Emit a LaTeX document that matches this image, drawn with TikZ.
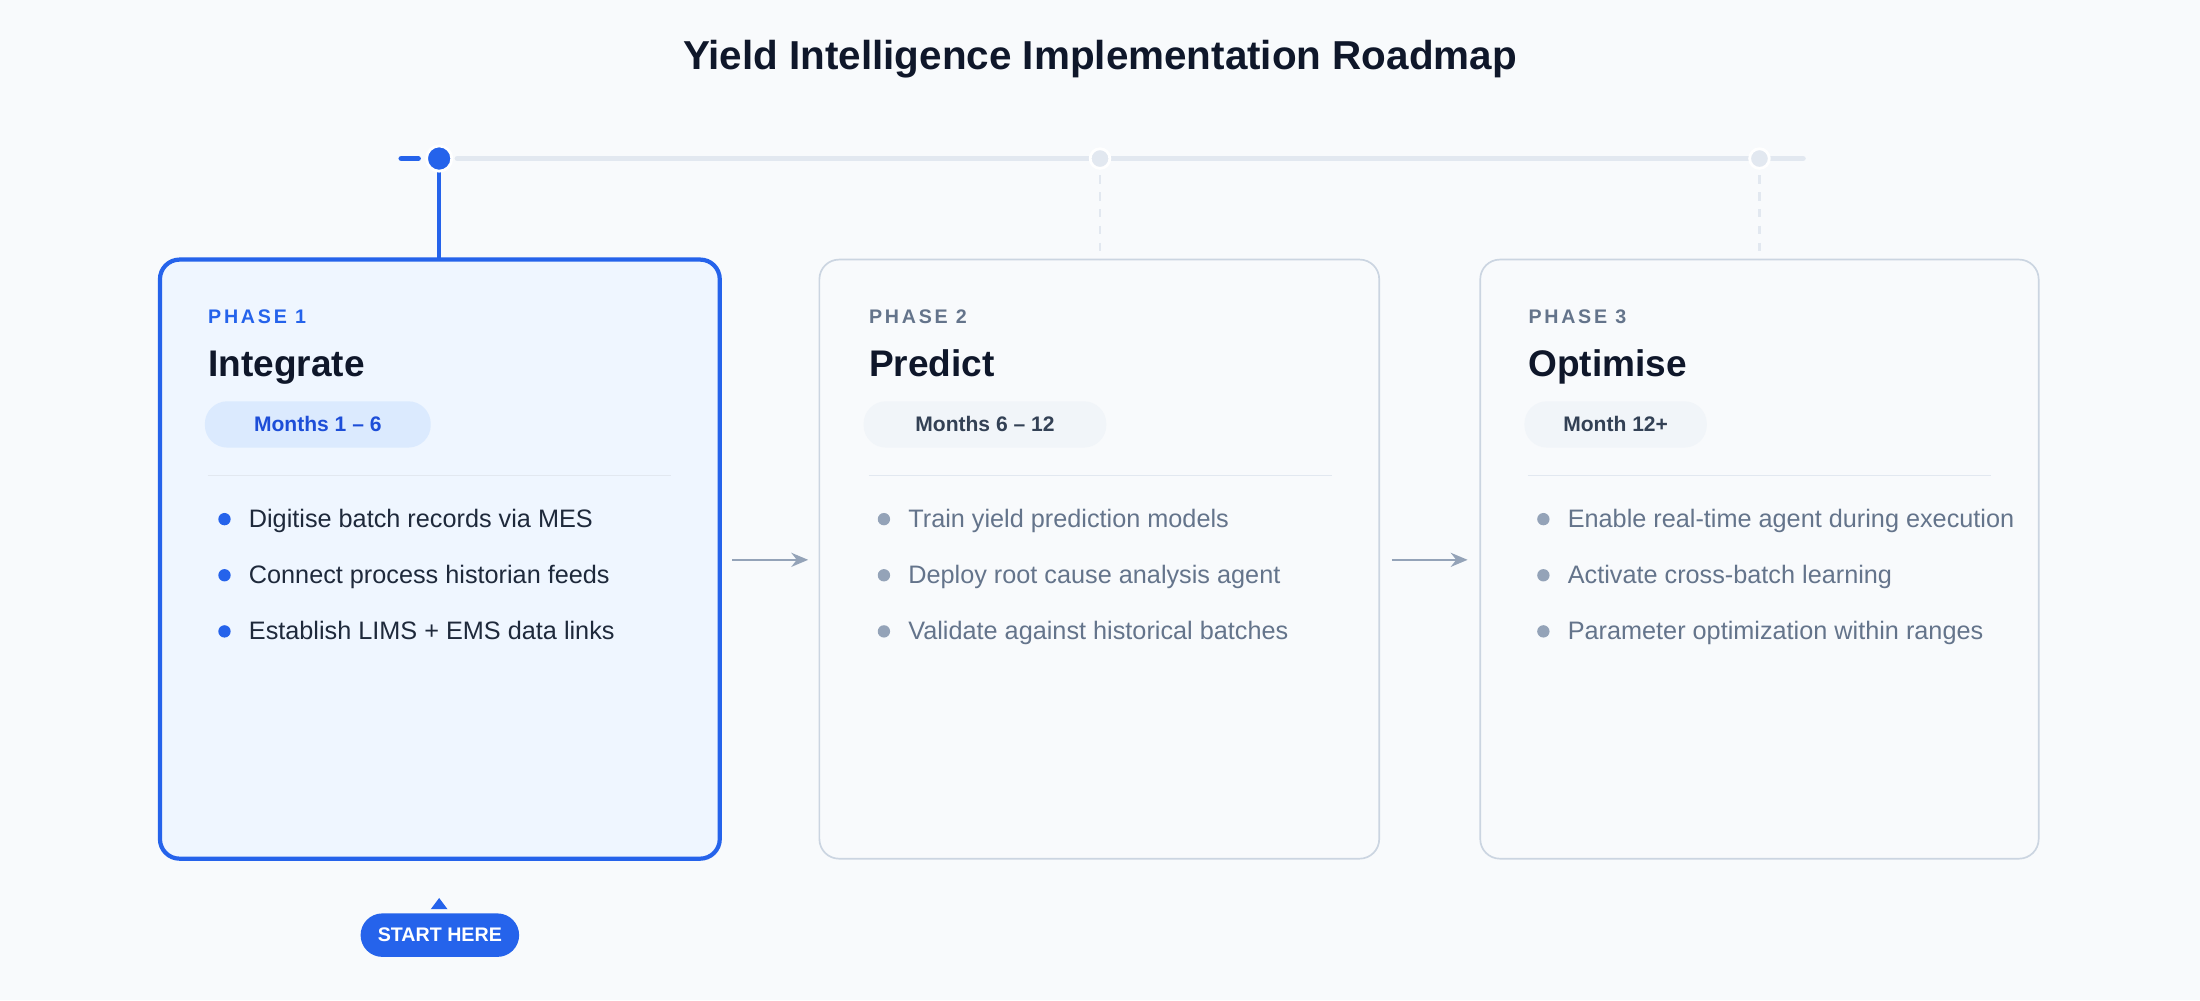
\documentclass[tikz,border=0pt]{standalone}
\usepackage{fontspec}
\setmainfont{Liberation Sans}
\newfontfamily\spacedfont[LetterSpace=14]{Liberation Sans}
\usetikzlibrary{arrows.meta}
\definecolor{bg}{HTML}{F8FAFC}
\definecolor{blueM}{HTML}{2563EB}
\definecolor{blueD}{HTML}{1D4ED8}
\definecolor{blueF}{HTML}{EFF6FF}
\definecolor{blueP}{HTML}{DBEAFE}
\definecolor{grayL}{HTML}{E2E8F0}
\definecolor{grayB}{HTML}{CBD5E1}
\definecolor{grayT}{HTML}{64748B}
\definecolor{grayBul}{HTML}{94A3B8}
\definecolor{grayP}{HTML}{F1F5F9}
\definecolor{dark}{HTML}{0F172A}
\definecolor{darkT}{HTML}{1E293B}
\definecolor{pillT}{HTML}{334155}
\tikzset{
 card/.style={draw=grayB,line width=0.6pt,fill=bg,rounded corners=7pt},
 cardA/.style={draw=blueM,line width=1.5pt,fill=blueF,rounded corners=7pt},
 phase/.style={anchor=west,inner sep=0,font=\spacedfont\bfseries\fontsize{7}{8}\selectfont},
 ptitle/.style={anchor=base west,inner sep=0,text=dark,font=\bfseries\fontsize{13.2}{15}\selectfont},
 pill/.style={rounded corners=8pt,inner sep=0,font=\bfseries\fontsize{7.5}{9}\selectfont},
 btxt/.style={anchor=base west,inner sep=0,font=\fontsize{9}{10}\selectfont},
 conn/.style={-{Stealth[length=6pt,width=5pt]},draw=grayBul,line width=0.9pt},
}
\begin{document}
\begin{tikzpicture}[x=0.5pt,y=-0.5pt]
\fill[bg] (0,0) rectangle (1568,713);
\useasboundingbox (0,0) rectangle (1568,713);
\node[font=\bfseries\fontsize{14.4}{17}\selectfont,text=dark] (title) at (784,42) {Yield Intelligence Implementation Roadmap};
% timeline
\draw[grayL,line width=2pt,line cap=round] (326,113) -- (1285,113);
\draw[blueM,line width=2pt,line cap=round] (286,113) -- (298,113);
\coordinate (t1) at (313,113);
\coordinate (t2) at (784,113);
\coordinate (t3) at (1254,113);
% cards
\draw[cardA] (114,185) rectangle (513,612);
\draw[card] (584,185) rectangle (983,612);
\draw[card] (1055,185) rectangle (1453,612);
\coordinate (c1) at (313,185);
\coordinate (c2) at (784,185);
\coordinate (c3) at (1254,185);
\draw[blueM,line width=1.3pt] (t1) -- (c1);
\draw[grayL,line width=1pt,dashed] (t2) -- (c2);
\draw[grayL,line width=1pt,dashed] (t3) -- (c3);
\node[circle,fill=blueM,draw=white,line width=1pt,minimum size=9pt,inner sep=0] at (t1) {};
\node[circle,fill=grayL,draw=white,line width=1pt,minimum size=7pt,inner sep=0] at (t2) {};
\node[circle,fill=grayL,draw=white,line width=1pt,minimum size=7pt,inner sep=0] at (t3) {};
% card 1
\node[phase,text=blueM] (p1) at (148,226) {PHASE 1};
\node[ptitle] (h1) at (148,268) {Integrate};
\node[pill,fill=blueP,text=blueD,minimum width=80.5pt,minimum height=16.5pt] (m1) at (226.5,302.5) {Months 1 – 6};
\draw[grayL,line width=0.6pt] (148,339) -- (478,339);
% card 2
\node[phase,text=grayT] (p2) at (619,226) {PHASE 2};
\node[ptitle] (h2) at (619,268) {Predict};
\node[pill,fill=grayP,text=pillT,minimum width=86.5pt,minimum height=16.5pt] (m2) at (702,302.5) {Months 6 – 12};
\draw[grayL,line width=0.6pt] (619,339) -- (949,339);
% card 3
\node[phase,text=grayT] (p3) at (1089,226) {PHASE 3};
\node[ptitle] (h3) at (1089,268) {Optimise};
\node[pill,fill=grayP,text=pillT,minimum width=65pt,minimum height=16.5pt] (m3) at (1151.5,302.5) {Month 12+};
\draw[grayL,line width=0.6pt] (1089,339) -- (1419,339);
% bullets
\foreach \y/\t [count=\i] in {370/Digitise batch records via MES,410/Connect process historian feeds,450/Establish LIMS + EMS data links}{
 \fill[blueM] (160,\y) circle (2.2pt);
 \node[btxt,text=darkT] (a\i) at (177,\y+6) {\t};
}
\foreach \y/\t [count=\i] in {370/Train yield prediction models,410/Deploy root cause analysis agent,450/Validate against historical batches}{
 \fill[grayBul] (630,\y) circle (2.2pt);
 \node[btxt,text=grayT] (b\i) at (647,\y+6) {\t};
}
\foreach \y/\t [count=\i] in {370/Enable real-time agent during execution,410/Activate cross-batch learning,450/Parameter optimization within ranges}{
 \fill[grayBul] (1100,\y) circle (2.2pt);
 \node[btxt,text=grayT] (d\i) at (1117,\y+6) {\t};
}
% arrows
\coordinate (r1) at (522,399); \coordinate (l2) at (576,399);
\coordinate (r2) at (992,399); \coordinate (l3) at (1046,399);
\draw[conn] (r1) -- (l2);
\draw[conn] (r2) -- (l3);
% start here
\fill[blueM] (307,648) -- (319,648) -- (313,640) -- cycle;
\node[pill,fill=blueM,text=white,minimum width=56.5pt,minimum height=15.5pt,rounded corners=7.75pt,font=\bfseries\fontsize{7}{8}\selectfont] (start) at (313.5,666.5) {START HERE};
\end{tikzpicture}
\end{document}
